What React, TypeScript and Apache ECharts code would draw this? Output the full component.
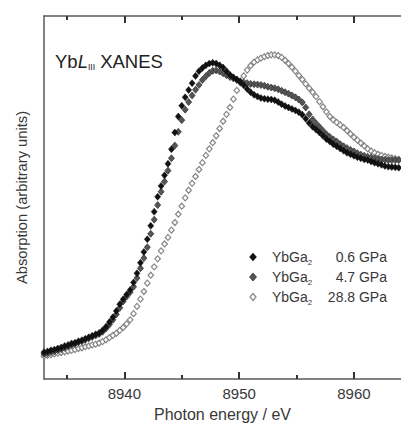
import React, { useEffect, useRef } from "react";
import * as echarts from "echarts";

const energies = [
  8933.0, 8933.3, 8933.6, 8933.9, 8934.2, 8934.5, 8934.8, 8935.1, 8935.4, 8935.7,
  8936.0, 8936.3, 8936.6, 8936.9, 8937.2, 8937.5, 8937.8, 8938.1, 8938.4, 8938.7,
  8939.0, 8939.3, 8939.6, 8939.9, 8940.2, 8940.5, 8940.8, 8941.1, 8941.4, 8941.7,
  8942.0, 8942.3, 8942.6, 8942.9, 8943.2, 8943.5, 8943.8, 8944.1, 8944.4, 8944.7,
  8945.0, 8945.3, 8945.6, 8945.9, 8946.2, 8946.5, 8946.8, 8947.1, 8947.4, 8947.7,
  8948.0, 8948.3, 8948.6, 8948.9, 8949.2, 8949.5, 8949.8, 8950.1, 8950.4, 8950.7,
  8951.0, 8951.3, 8951.6, 8951.9, 8952.2, 8952.5, 8952.8, 8953.1, 8953.4, 8953.7,
  8954.0, 8954.3, 8954.6, 8954.9, 8955.2, 8955.5, 8955.8, 8956.1, 8956.4, 8956.7,
  8957.0, 8957.3, 8957.6, 8957.9, 8958.2, 8958.5, 8958.8, 8959.1, 8959.4, 8959.7,
  8960.0, 8960.3, 8960.6, 8960.9, 8961.2, 8961.5, 8961.8, 8962.1, 8962.4, 8962.7,
  8963.0, 8963.3, 8963.6, 8963.9, 8964.2,
];

// YbGa2 0.6 GPa
const absA = [
  7.4, 7.6, 7.9, 8.1, 8.4, 8.7, 9.1, 9.4, 9.8, 10.0,
  10.4, 10.7, 11.1, 11.5, 11.9, 12.3, 12.7, 13.4, 14.4, 15.7,
  17.0, 18.7, 20.6, 22.0, 23.3, 24.5, 26.6, 29.1, 32.0, 35.0,
  38.5, 42.2, 46.1, 50.2, 53.2, 56.1, 59.3, 63.3, 67.9, 72.3,
  75.3, 77.6, 79.6, 81.5, 83.5, 84.8, 85.7, 86.4, 86.9, 87.1,
  86.9, 86.4, 85.8, 84.8, 83.8, 83.1, 82.5, 81.8, 80.9, 79.9,
  79.0, 78.3, 77.8, 77.4, 77.2, 77.1, 77.0, 76.8, 76.3, 75.7,
  75.2, 74.8, 74.4, 74.0, 73.5, 72.8, 71.7, 70.5, 69.5, 68.7,
  67.9, 67.0, 66.1, 65.4, 64.7, 64.1, 63.5, 62.9, 62.3, 61.9,
  61.5, 61.1, 60.8, 60.5, 60.3, 59.9, 59.6, 59.3, 59.0, 58.7,
  58.5, 58.4, 58.3, 58.2, 58.1,
];

// YbGa2 4.7 GPa
const absB = [
  6.9, 7.1, 7.4, 7.6, 7.9, 8.2, 8.6, 9.0, 9.4, 9.7,
  10.1, 10.4, 10.8, 11.2, 11.6, 12.0, 12.4, 13.0, 13.9, 15.0,
  16.3, 17.8, 19.6, 21.4, 22.7, 23.9, 25.4, 27.8, 30.5, 33.3,
  36.3, 40.0, 43.9, 47.9, 51.6, 54.4, 57.4, 60.8, 64.3, 68.1,
  71.3, 74.2, 76.3, 78.1, 79.7, 81.0, 82.4, 83.4, 84.3, 84.9,
  85.0, 84.7, 84.2, 83.7, 83.2, 82.8, 82.4, 82.0, 81.7, 81.5,
  81.3, 81.2, 81.1, 81.0, 80.8, 80.5, 80.3, 80.1, 79.8, 79.4,
  79.0, 78.6, 78.1, 77.6, 77.0, 76.2, 74.8, 72.9, 71.5, 70.4,
  69.4, 68.4, 67.4, 66.7, 66.0, 65.4, 64.7, 64.1, 63.6, 63.1,
  62.7, 62.2, 61.8, 61.5, 61.2, 61.0, 60.8, 60.6, 60.5, 60.4,
  60.3, 60.3, 60.3, 60.3, 60.3,
];

// YbGa2 28.8 GPa
const absC = [
  6.3, 6.5, 6.7, 6.9, 7.1, 7.3, 7.5, 7.7, 7.9, 8.1,
  8.4, 8.6, 8.9, 9.1, 9.4, 9.6, 9.9, 10.3, 10.8, 11.4,
  12.0, 12.6, 13.4, 14.2, 15.2, 16.3, 18.0, 20.0, 22.0, 24.1,
  26.4, 28.6, 30.9, 33.1, 35.3, 37.2, 39.0, 41.0, 43.1, 45.4,
  47.6, 49.9, 52.0, 53.9, 55.8, 57.7, 59.6, 61.6, 63.4, 65.1,
  67.0, 69.0, 71.0, 72.9, 74.8, 77.1, 79.5, 81.6, 83.5, 85.1,
  86.3, 87.3, 87.9, 88.4, 88.8, 89.1, 89.3, 89.3, 89.1, 88.6,
  87.8, 86.9, 85.9, 84.8, 83.6, 82.5, 81.3, 80.1, 79.0, 77.8,
  76.4, 75.0, 73.6, 72.3, 71.4, 70.7, 70.0, 69.3, 68.4, 67.5,
  66.6, 65.8, 65.0, 64.2, 63.4, 62.8, 62.3, 61.9, 61.6, 61.3,
  61.1, 60.9, 60.7, 60.5, 60.3,
];

const majorTicks = [8940, 8950, 8960];
const minorTicks = [8935, 8945, 8955];
const legendNames = ["YbGa{s|2}", "YbGa{s|2}", "YbGa{s|2}"];
const legendPressures = ["0.6 GPa", "4.7 GPa", "28.8 GPa"];

const X_MIN = 8933;
const X_MAX = 8964.1;

const FONT = "'Liberation Sans', Arial, sans-serif";
const AXIS_COLOR = "#5a5a5a";
const TICK_COLOR = "#333333";
const TEXT_COLOR = "#383838";

const GRID = { left: 44, top: 16, right: 0, bottom: 48 };

export default function App() {
  const ref = useRef<HTMLDivElement>(null);

  useEffect(() => {
    if (!ref.current) return;
    const chart = echarts.init(ref.current, undefined, { renderer: "svg" });

    const mk = (arr: number[]) => energies.map((e, i) => [e, arr[i]]);

    const tickAxis = (gridIndex: number, position: string, values: number[], length: number, showLine: boolean) => ({
      type: "value",
      gridIndex,
      position,
      min: X_MIN,
      max: X_MAX,
      splitLine: { show: false },
      axisLine: { show: showLine, onZero: false, lineStyle: { color: AXIS_COLOR, width: 1.5 } },
      axisTick: { show: true, inside: true, length, customValues: values, lineStyle: { color: TICK_COLOR, width: 2 } },
      axisLabel: { show: false, customValues: values },
    });

    const bottomMain: any = tickAxis(0, "bottom", majorTicks, 7, true);
    bottomMain.axisLabel = {
      show: true,
      customValues: majorTicks,
      margin: 7,
      fontSize: 15,
      fontFamily: FONT,
      color: TEXT_COLOR,
      formatter: (v: number) => String(Math.round(v)),
    };
    bottomMain.name = "Photon energy / eV";
    bottomMain.nameLocation = "middle";
    bottomMain.nameGap = 27;
    bottomMain.nameTextStyle = { fontSize: 16, fontFamily: FONT, color: TEXT_COLOR, verticalAlign: "top" };

    const xAxes: any[] = [
      bottomMain,
      tickAxis(0, "top", majorTicks, 7, true),
      tickAxis(1, "bottom", minorTicks, 4, false),
      tickAxis(1, "top", minorTicks, 4, false),
    ];

    const diamond = (cx: number, cy: number, w: number, h: number) => [
      [cx, cy - h / 2],
      [cx + w / 2, cy],
      [cx, cy + h / 2],
      [cx - w / 2, cy],
    ];

    const legendY = [257, 277, 297];
    const legendGraphics: any[] = [];
    legendY.forEach((y, i) => {
      legendGraphics.push({
        type: "text",
        x: 272,
        y,
        style: {
          text: legendNames[i],
          fontSize: 14,
          fontFamily: FONT,
          fill: TEXT_COLOR,
          verticalAlign: "middle",
          rich: { s: { fontSize: 8, fontFamily: FONT, fill: TEXT_COLOR, padding: [10, 0, 0, 0] } },
        },
      });
      legendGraphics.push({
        type: "text",
        x: 387,
        y,
        style: {
          text: legendPressures[i],
          fontSize: 14,
          fontFamily: FONT,
          fill: TEXT_COLOR,
          align: "right",
          verticalAlign: "middle",
        },
      });
    });
    legendGraphics.push({
      type: "polygon",
      shape: { points: diamond(253, legendY[0], 7, 8) },
      style: { fill: "#111", stroke: "#111", lineWidth: 0.5 },
    });
    legendGraphics.push({
      type: "polygon",
      shape: { points: diamond(253, legendY[1], 7, 8) },
      style: { fill: "#555", stroke: "#333", lineWidth: 0.8 },
    });
    legendGraphics.push({
      type: "polygon",
      shape: { points: diamond(253, legendY[2], 6, 7) },
      style: { fill: "#fff", stroke: "#888", lineWidth: 1.2 },
    });

    const option: any = {
      animation: false,
      backgroundColor: "#fff",
      grid: [GRID, GRID],
      xAxis: xAxes,
      yAxis: [
        {
          type: "value",
          gridIndex: 0,
          min: 0,
          max: 100,
          axisLine: { show: true, lineStyle: { color: AXIS_COLOR, width: 1.5 } },
          axisTick: { show: false },
          axisLabel: { show: false },
          splitLine: { show: false },
          name: "Absorption (arbitrary units)",
          nameLocation: "middle",
          nameGap: 15,
          nameTextStyle: { fontSize: 14.7, fontFamily: FONT, color: TEXT_COLOR },
        },
        {
          type: "value",
          gridIndex: 1,
          min: 0,
          max: 100,
          axisLine: { show: false },
          axisTick: { show: false },
          axisLabel: { show: false },
          splitLine: { show: false },
        },
      ],
      graphic: [
        {
          type: "text",
          x: 55,
          y: 61,
          style: {
            text: "Yb{i|L}{s|III} XANES",
            fontSize: 18.5,
            fontFamily: FONT,
            fill: "#222",
            verticalAlign: "middle",
            rich: {
              i: { fontSize: 18.5, fontStyle: "italic", fontFamily: FONT, fill: "#222" },
              s: { fontSize: 8.5, fontFamily: FONT, fill: "#222", padding: [12, 0, 0, 0] },
            },
          },
        },
        ...legendGraphics,
      ],
      series: [
        {
          type: "line",
          name: "YbGa2 28.8 GPa",
          xAxisIndex: 0,
          yAxisIndex: 0,
          data: mk(absC),
          showSymbol: true,
          symbol: "diamond",
          symbolSize: [5.5, 6],
          lineStyle: { width: 0, opacity: 0 },
          itemStyle: { color: "#fff", borderColor: "#858585", borderWidth: 1.2 },
          clip: true,
          z: 2,
        },
        {
          type: "line",
          name: "YbGa2 4.7 GPa",
          xAxisIndex: 0,
          yAxisIndex: 0,
          data: mk(absB),
          showSymbol: true,
          symbol: "diamond",
          symbolSize: [6, 7],
          lineStyle: { width: 0, opacity: 0 },
          itemStyle: { color: "#555", borderColor: "#3a3a3a", borderWidth: 0.8 },
          clip: true,
          z: 3,
        },
        {
          type: "line",
          name: "YbGa2 0.6 GPa",
          xAxisIndex: 0,
          yAxisIndex: 0,
          data: mk(absA),
          showSymbol: true,
          symbol: "diamond",
          symbolSize: [6, 7],
          lineStyle: { width: 0, opacity: 0 },
          itemStyle: { color: "#111", borderColor: "#111", borderWidth: 0.5 },
          clip: true,
          z: 4,
        },
      ],
    };

    chart.setOption(option);
    return () => chart.dispose();
  }, []);

  return (
    <div
      ref={ref}
      style={{ position: "fixed", left: 0, top: 0, width: 401, height: 427, background: "#fff" }}
    />
  );
}
